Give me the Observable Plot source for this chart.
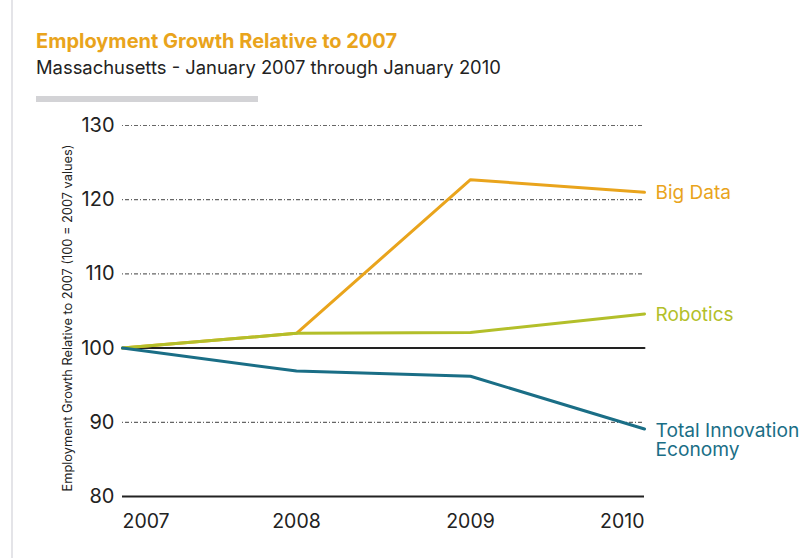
<!DOCTYPE html>
<html>
<head>
<meta charset="utf-8">
<script src="https://cdn.jsdelivr.net/npm/d3@7"></script>
<script src="https://cdn.jsdelivr.net/npm/@observablehq/plot@0.6"></script>
<style>
  html, body { margin: 0; padding: 0; background: #fff; }
  #wrap { position: relative; width: 809px; height: 558px; overflow: hidden; font-family: Inter, Lato, sans-serif; }
  #border { position: absolute; left: 11px; top: 0; width: 2px; height: 558px; background: #e4e4e8; }
  #title { position: absolute; left: 36px; top: 29px; font-size: 20px; font-weight: 700; color: #e9a41c; white-space: nowrap; }
  #subtitle { position: absolute; left: 36px; top: 56px; font-size: 18.4px; color: #222; white-space: nowrap; }
  #bar { position: absolute; left: 36px; top: 96px; width: 222px; height: 6px; background: #d3d3d6; }
  #chart { position: absolute; left: 0; top: 110px; }
</style>
</head>
<body>
<div id="wrap">
  <div id="border"></div>
  <div id="title">Employment Growth Relative to 2007</div>
  <div id="subtitle">Massachusetts - January 2007 through January 2010</div>
  <div id="bar"></div>
  <div id="chart"></div>
</div>
<script>
const years = [2007, 2008, 2009, 2010];
const bigData = [100, 102.0, 122.7, 121.0];
const robotics = [100, 102.0, 102.1, 104.6];
const totalInnovation = [100, 96.9, 96.2, 89.1];
const baseline = [100, 100, 100, 100];
const yTicks = [80, 90, 100, 110, 120, 130];
const gridTicks = [90, 110, 120, 130];
const seriesNames = ["Big Data", "Robotics", "Total Innovation\nEconomy"];
const seriesColors = ["#e9a41c", "#b3bf2a", "#1a6e86"];
const yLabel = "Employment Growth Relative to 2007 (100 = 2007 values)";

const seriesValues = [bigData, robotics, totalInnovation];
const rows = [];
seriesValues.forEach((vals, i) => years.forEach((y, j) => rows.push({series: seriesNames[i], year: y, value: vals[j]})));
const baseRows = years.map((y, j) => ({year: y, value: baseline[j]}));
const endRows = seriesNames.map((s, i) => ({series: s, year: years[years.length - 1], value: seriesValues[i][years.length - 1], color: seriesColors[i]}));
const font = "Inter, Lato, sans-serif";

const chart = Plot.plot({
  width: 809,
  height: 448,
  marginTop: 15,
  marginBottom: 62,
  marginLeft: 122,
  marginRight: 165,
  style: {fontFamily: font, background: "transparent", overflow: "visible"},
  x: {domain: [2007, 2010], axis: null},
  y: {domain: [80, 130], axis: null},
  color: {domain: seriesNames, range: seriesColors},
  marks: [
    Plot.ruleY(gridTicks, {stroke: "#666", strokeWidth: 1.2, strokeDasharray: "1,2,4,2"}),
    Plot.ruleY([80], {stroke: "#222", strokeWidth: 2}),
    Plot.line(baseRows, {x: "year", y: "value", stroke: "#222", strokeWidth: 2}),
    Plot.line(rows, {x: "year", y: "value", z: "series", stroke: "series", strokeWidth: 3, strokeLinejoin: "miter"}),
    Plot.text(endRows.filter(d => !d.series.includes("\n")), {x: "year", y: "value", text: "series", fill: "color", textAnchor: "start", dx: 11, dy: 1, fontSize: 19, lineAnchor: "middle"}),
    Plot.text(endRows.filter(d => d.series.includes("\n")), {x: "year", y: "value", text: "series", fill: "color", textAnchor: "start", dx: 11, dy: -6, fontSize: 19.2, lineAnchor: "top", lineHeight: 1.02}),
    Plot.text(yTicks, {x: 2007, y: d => d, text: d => String(d), textAnchor: "end", dx: -8, fontSize: 20, fill: "#222"}),
    Plot.text(years.filter(d => d === 2007), {x: d => d, y: 80, text: d => String(d), textAnchor: "start", dy: 25, fontSize: 19.5, fill: "#222"}),
    Plot.text(years.filter(d => d !== 2007 && d !== 2010), {x: d => d, y: 80, text: d => String(d), textAnchor: "middle", dy: 25, fontSize: 19.5, fill: "#222"}),
    Plot.text(years.filter(d => d === 2010), {x: d => d, y: 80, text: d => String(d), textAnchor: "end", dy: 25, fontSize: 19.5, fill: "#222"}),
    Plot.text([yLabel], {frameAnchor: "left", text: d => d, textAnchor: "middle", rotate: -90, dx: -55, dy: 7, fontSize: 12.8, fill: "#222"})
  ]
});
document.getElementById("chart").appendChild(chart);
</script>
</body>
</html>
